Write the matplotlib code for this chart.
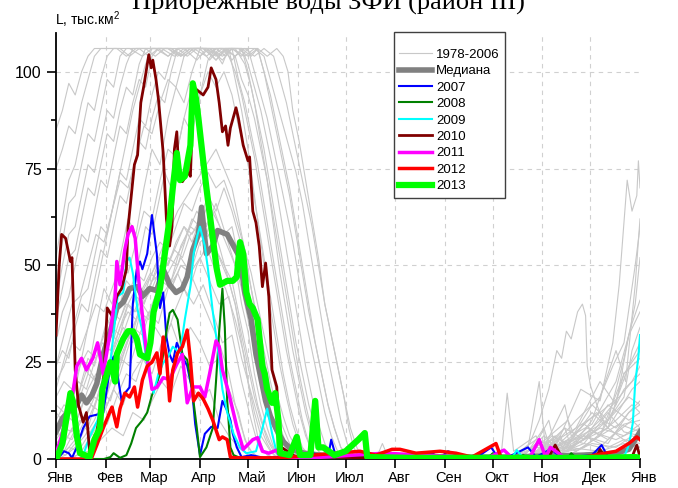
import matplotlib
matplotlib.use("Agg")
import matplotlib.pyplot as plt
import matplotlib.transforms as mtransforms

plt.rcParams['font.family'] = ['Liberation Sans', 'DejaVu Sans']
plt.rcParams['mathtext.fontset'] = 'custom'
plt.rcParams['mathtext.rm'] = 'Liberation Sans'
plt.rcParams['mathtext.it'] = 'Liberation Sans'

# ---------------- data ----------------
title = "Прибрежные воды ЗФИ (район III)"
ylabel = "L, тыс.км$^2$"
month_starts = [0, 31, 59, 90, 120, 151, 181, 212, 243, 273, 304, 334, 365]
month_labels = ["Янв", "Фев", "Мар", "Апр", "Май", "Июн", "Июл", "Авг", "Сен", "Окт", "Ноя", "Дек", "Янв"]
y_major = [0, 25, 50, 75, 100]
y_minor = [12.5, 37.5, 62.5, 87.5]

# background years 1978-2006 (day of year, value)
gray_1978 = [(0,0),(10,0.5),(20,2),(28,5),(35,8),(42,6),(48,12),(55,10),(60,15),(66,20),(72,17),(78,24),(84,20),(90,15),(96,18),(102,10),(108,6),(114,3),(120,1),(126,0),(300,0),(320,1),(340,2),(355,1),(365,0)]
gray_1979 = [(0,2),(6,1),(12,4),(18,8),(24,6),(30,12),(36,18),(42,14),(48,22),(54,26),(60,22),(66,30),(72,35),(78,28),(84,34),(90,30),(96,24),(102,26),(108,18),(114,12),(118,5),(122,2),(128,0),(290,0),(305,2),(320,1),(335,4),(350,3),(360,6),(365,5)]
gray_1980 = [(0,0),(8,3),(14,2),(20,6),(26,10),(32,9),(38,16),(44,22),(50,20),(56,28),(62,34),(68,30),(74,38),(80,44),(86,40),(92,45),(98,38),(104,30),(110,32),(116,20),(122,10),(126,4),(132,1),(138,0),(280,0),(300,3),(318,2),(330,5),(345,8),(358,4),(365,3)]
gray_1981 = [(0,4),(5,6),(10,5),(16,10),(22,14),(28,12),(34,20),(40,26),(46,24),(52,32),(58,38),(64,35),(70,44),(76,48),(82,42),(88,50),(94,55),(100,48),(106,44),(112,36),(118,26),(122,14),(126,6),(130,2),(136,0),(285,0),(295,2),(305,8),(310,1),(330,3),(350,10),(360,14),(365,12)]
gray_1982 = [(0,7),(6,5),(12,9),(18,16),(24,13),(30,22),(36,28),(42,34),(48,30),(54,40),(60,44),(66,50),(72,46),(78,55),(84,60),(90,58),(96,62),(102,55),(108,46),(112,40),(116,30),(120,20),(124,12),(128,6),(134,2),(140,0),(290,0),(300,2),(315,5),(325,2),(340,6),(355,18),(365,22)]
gray_1983 = [(0,1),(4,3),(10,8),(16,6),(22,12),(28,18),(34,15),(40,24),(46,32),(52,38),(58,36),(64,45),(70,52),(76,50),(82,58),(88,64),(94,60),(100,66),(106,58),(112,50),(116,40),(120,33),(124,22),(128,14),(132,8),(136,3),(140,1),(146,0),(300,0),(310,4),(320,2),(335,7),(350,5),(365,8)]
gray_1984 = [(0,10),(5,14),(10,12),(15,18),(20,24),(25,20),(30,30),(35,34),(40,32),(45,40),(50,44),(55,40),(60,46),(66,48),(72,44),(78,50),(84,48),(90,52),(96,46),(102,40),(108,42),(112,34),(116,26),(120,20),(124,14),(128,8),(132,4),(136,1),(142,0),(285,0),(295,3),(302,20),(306,2),(320,5),(340,3),(355,9),(365,10)]
gray_1985 = [(0,3),(6,2),(12,5),(18,10),(24,16),(30,14),(36,22),(42,27),(48,34),(54,40),(60,36),(66,42),(72,46),(78,52),(84,48),(90,56),(96,58),(102,52),(108,46),(112,40),(116,32),(120,24),(124,16),(128,10),(132,5),(136,2),(142,0),(295,0),(312,6),(318,2),(330,4),(345,12),(355,7),(365,6)]
gray_1986 = [(0,5),(5,8),(10,7),(15,12),(20,18),(25,22),(30,20),(35,28),(40,34),(45,38),(50,36),(55,42),(60,46),(65,50),(70,48),(75,52),(80,56),(85,62),(90,60),(95,66),(100,62),(105,58),(110,60),(114,52),(118,44),(122,36),(126,28),(130,20),(134,12),(138,6),(142,2),(148,0),(280,0),(290,2),(300,5),(312,3),(325,8),(340,12),(352,16),(360,20),(365,24)]
gray_1987 = [(0,12),(4,10),(9,15),(14,20),(19,18),(24,25),(29,30),(34,28),(39,35),(44,40),(49,38),(54,44),(59,48),(64,46),(69,50),(74,54),(79,52),(84,58),(89,60),(94,58),(99,64),(104,58),(108,54),(112,50),(116,44),(120,36),(124,28),(128,20),(132,14),(136,8),(140,4),(144,1),(150,0),(290,0),(300,4),(308,10),(312,3),(330,6),(345,4),(358,12),(365,15)]
gray_1988 = [(0,0),(5,2),(10,6),(15,10),(20,8),(25,15),(30,22),(35,27),(40,34),(45,40),(50,38),(55,44),(60,48),(65,52),(70,50),(75,55),(80,60),(85,56),(90,62),(95,68),(100,64),(105,70),(110,64),(114,58),(118,52),(122,44),(126,36),(130,28),(134,20),(138,13),(142,8),(146,4),(150,1),(156,0),(300,0),(315,2),(330,6),(345,3),(355,5),(365,4)]
gray_1989 = [(0,16),(5,20),(10,18),(15,24),(20,28),(25,26),(30,32),(35,38),(40,36),(45,42),(50,48),(55,46),(60,52),(65,56),(70,54),(75,60),(80,66),(85,64),(90,70),(95,74),(100,70),(105,72),(110,66),(114,60),(118,54),(122,48),(126,40),(130,32),(134,24),(138,17),(142,11),(146,6),(150,3),(156,1),(160,0),(285,0),(300,3),(320,10),(326,4),(340,8),(355,6),(365,9)]
gray_1990 = [(0,6),(4,9),(8,14),(12,12),(16,20),(20,26),(24,24),(28,30),(32,36),(36,34),(40,40),(44,46),(48,44),(52,52),(56,60),(60,58),(64,66),(68,74),(72,70),(76,80),(80,88),(85,84),(90,94),(95,100),(100,96),(105,100),(110,94),(114,86),(118,80),(122,72),(126,62),(130,52),(134,42),(138,32),(142,22),(146,14),(150,8),(154,3),(160,0),(290,0),(305,2),(318,8),(322,3),(340,10),(350,15),(358,24),(365,30)]
gray_1991 = [(0,20),(5,24),(10,30),(15,28),(20,34),(25,40),(30,38),(35,44),(40,50),(45,48),(50,56),(55,64),(60,62),(65,72),(70,80),(75,78),(80,88),(85,96),(90,94),(95,103),(100,106),(106,104),(110,106),(114,98),(118,92),(122,84),(126,76),(130,66),(134,56),(138,46),(142,36),(146,26),(150,18),(154,10),(158,4),(164,0),(295,0),(310,5),(315,1),(335,12),(345,8),(360,18),(365,20)]
gray_1992 = [(0,24),(4,28),(8,26),(12,34),(16,40),(20,38),(24,46),(28,54),(32,52),(36,60),(40,68),(44,66),(48,74),(52,82),(56,80),(60,88),(64,94),(68,92),(72,100),(76,106),(82,104),(88,106),(94,106),(100,103),(106,106),(112,104),(116,98),(120,94),(124,88),(128,80),(132,72),(136,62),(140,52),(144,42),(148,32),(152,22),(156,14),(160,7),(164,2),(170,0),(300,0),(320,4),(330,9),(340,6),(355,22),(365,28)]
gray_1993 = [(0,18),(4,24),(8,30),(12,36),(16,42),(20,44),(24,52),(28,60),(32,58),(36,66),(40,74),(44,72),(48,80),(52,88),(56,86),(60,94),(64,100),(68,98),(72,104),(76,106),(84,106),(90,104),(96,106),(104,106),(110,103),(116,106),(120,102),(124,96),(128,90),(132,82),(136,74),(140,64),(144,54),(148,44),(152,34),(156,24),(160,16),(164,9),(168,4),(174,0),(290,0),(305,3),(318,14),(322,6),(335,9),(350,20),(360,35),(365,41)]
gray_1994 = [(0,24),(5,32),(10,40),(15,42),(20,50),(25,58),(30,56),(35,64),(40,72),(45,70),(50,78),(55,86),(60,84),(65,92),(70,98),(75,96),(80,104),(86,106),(92,106),(98,104),(104,106),(110,106),(116,104),(120,106),(124,100),(128,94),(132,88),(136,80),(140,72),(144,64),(148,56),(152,46),(156,36),(160,28),(164,20),(168,12),(172,6),(176,2),(182,0),(300,0),(315,2),(330,5),(345,10),(358,16),(365,14)]
gray_1995 = [(0,30),(4,38),(8,42),(12,50),(16,58),(20,56),(24,64),(28,72),(32,70),(36,78),(40,86),(44,84),(48,92),(52,98),(56,96),(60,104),(64,106),(72,106),(78,104),(84,106),(92,106),(100,103),(106,106),(114,106),(120,104),(126,106),(130,100),(134,94),(138,86),(142,78),(146,70),(150,60),(154,50),(158,40),(162,30),(166,22),(170,14),(174,8),(178,3),(184,0),(290,0),(300,2),(310,6),(320,4),(335,14),(345,10),(355,26),(362,40),(365,52)]
gray_1996 = [(0,36),(4,44),(8,52),(12,54),(16,62),(20,70),(24,68),(28,76),(32,84),(36,82),(40,90),(44,96),(48,94),(52,102),(56,106),(64,106),(70,104),(76,106),(86,106),(94,104),(100,106),(110,106),(118,104),(124,106),(130,104),(134,98),(138,92),(142,86),(146,80),(150,74),(154,66),(158,56),(162,46),(166,36),(170,26),(174,18),(178,10),(182,4),(186,1),(190,0),(200,0),(204,4),(208,0),(295,0),(310,4),(325,8),(340,20),(350,14),(358,32),(365,38)]
gray_1997 = [(0,40),(4,50),(8,58),(12,60),(16,68),(20,76),(24,74),(28,82),(32,90),(36,88),(40,96),(44,102),(48,106),(56,106),(62,104),(68,106),(80,106),(88,103),(94,106),(104,106),(112,104),(118,106),(126,106),(132,104),(138,106),(142,104),(145,100),(148,90),(152,82),(156,72),(160,62),(164,52),(168,40),(172,32),(176,24),(180,16),(184,8),(188,3),(192,0),(300,0),(315,6),(320,2),(335,10),(350,28),(356,20),(362,45),(365,62)]
gray_1998 = [(0,45),(4,56),(8,66),(12,68),(16,76),(20,84),(24,82),(28,90),(32,98),(36,96),(40,104),(44,106),(52,106),(58,104),(64,106),(72,106),(80,104),(86,106),(96,106),(104,104),(110,106),(118,106),(124,104),(130,106),(136,104),(140,98),(144,92),(148,84),(152,76),(156,68),(160,60),(164,50),(168,40),(172,32),(176,24),(180,16),(183,8),(186,3),(190,0),(300,0),(310,3),(325,10),(340,16),(348,24),(355,30),(362,50),(365,60)]
gray_1999 = [(0,52),(4,62),(8,72),(12,76),(16,84),(20,92),(24,90),(28,98),(32,104),(36,106),(46,106),(54,104),(60,106),(70,106),(78,104),(84,106),(94,106),(102,104),(108,106),(116,106),(122,104),(126,106),(130,100),(134,92),(138,84),(142,76),(146,68),(150,58),(154,48),(158,38),(162,30),(166,22),(170,14),(174,8),(178,3),(184,0),(290,0),(305,6),(312,3),(328,18),(340,15),(348,30),(352,45),(357,72),(360,64),(363,68),(364,77),(365,70)]
gray_2000 = [(0,75),(4,80),(8,86),(12,84),(16,92),(20,98),(24,104),(28,106),(40,106),(46,104),(52,106),(62,106),(70,104),(76,106),(90,106),(96,103),(102,106),(112,106),(118,102),(122,96),(126,88),(130,80),(134,70),(138,60),(142,50),(146,40),(150,30),(154,22),(158,14),(162,8),(166,3),(172,0),(300,0),(320,5),(338,12),(345,8),(355,22),(365,26)]
gray_2001 = [(0,85),(4,90),(8,97),(12,94),(16,100),(20,104),(24,106),(38,106),(44,104),(50,106),(66,106),(74,104),(80,106),(94,106),(100,104),(106,106),(112,100),(116,94),(120,86),(124,78),(128,68),(132,58),(136,48),(140,38),(144,28),(148,20),(152,12),(156,6),(160,2),(166,0),(295,0),(305,3),(318,8),(330,5),(345,14),(358,10),(365,12)]
gray_2002 = [(0,2),(4,5),(8,10),(12,18),(16,26),(20,34),(24,42),(28,50),(32,58),(36,66),(40,74),(44,82),(48,90),(52,96),(56,102),(60,106),(70,106),(76,104),(82,106),(96,106),(104,103),(110,106),(116,106),(120,100),(124,92),(128,82),(132,72),(136,60),(140,48),(144,38),(148,28),(152,20),(156,12),(160,6),(164,2),(170,0),(285,0),(296,4),(302,10),(308,18),(313,28),(316,26),(319,33),(322,31),(326,38),(329,40),(331,37),(332,24),(334,19),(338,14),(342,10),(350,8),(358,12),(365,14)]
gray_2003 = [(0,14),(5,12),(10,18),(15,26),(20,22),(25,34),(30,44),(35,40),(40,52),(45,62),(50,58),(55,70),(60,80),(65,76),(70,88),(75,96),(80,92),(85,100),(90,106),(98,106),(104,102),(108,106),(112,98),(116,90),(120,80),(124,68),(128,56),(132,44),(136,34),(140,24),(144,16),(148,9),(152,4),(158,0),(278,0),(282,17),(286,2),(300,6),(304,2),(318,3),(332,8),(345,5),(360,10),(365,8)]
gray_2004 = [(0,8),(5,12),(10,10),(15,16),(20,22),(25,20),(30,26),(35,32),(40,30),(45,36),(50,42),(55,40),(60,46),(65,52),(70,50),(75,56),(80,60),(85,58),(90,62),(95,58),(100,54),(105,50),(110,46),(114,38),(118,30),(122,22),(126,14),(130,8),(134,4),(140,0),(300,0),(312,4),(325,2),(340,6),(352,9),(365,7)]
gray_2005 = [(0,0),(6,1),(12,3),(18,6),(24,10),(30,16),(36,22),(42,28),(48,34),(54,32),(60,40),(66,46),(72,44),(78,50),(84,48),(90,42),(96,36),(102,30),(108,22),(112,14),(116,8),(120,3),(126,0),(290,0),(300,1),(320,3),(340,2),(355,4),(365,3)]
gray_2006 = [(0,0),(10,0),(16,2),(22,6),(28,10),(34,16),(40,22),(46,30),(52,38),(58,46),(64,52),(70,58),(76,64),(82,68),(88,72),(94,76),(100,80),(106,74),(110,70),(114,62),(118,54),(122,44),(126,34),(130,26),(134,18),(138,11),(142,6),(146,2),(150,1),(156,0),(295,0),(310,3),(328,6),(345,10),(355,16),(360,28),(365,34)]

gray_years = [gray_1978, gray_1979, gray_1980, gray_1981, gray_1982, gray_1983, gray_1984,
              gray_1985, gray_1986, gray_1987, gray_1988, gray_1989, gray_1990, gray_1991,
              gray_1992, gray_1993, gray_1994, gray_1995, gray_1996, gray_1997, gray_1998,
              gray_1999, gray_2000, gray_2001, gray_2002, gray_2003, gray_2004, gray_2005,
              gray_2006]

median_days = [0,4,8.5,13,16,19,22.5,25.5,29.5,34,38,42,46,51,54,58.5,63,67,71,75,79,82,85.5,89,91,94,98,101,107,111,115,118,122,125,128,131,134,138,142,147,155,165,180,200,240,280,300,330,350,358,362,365]
median_vals = [7,10.5,12.5,14,16.5,14.5,16.5,19.5,27,33,39,40.5,44,44.5,42,44,43.5,49,45,43,44,47,54,58,65,53,55,59,58,55,52,43,36,27,21,15,11,7.5,4.5,2.5,1.5,1,0.7,0.5,0.5,0.5,0.7,1,1.5,2.5,5,7]

days_2007 = [0,3,5,8,10,13,17,21,26,29.5,34,36,38,41,43,46,48,50.5,52.5,54,57,60,63,65,67,69,71,73,75.5,79,82,85,87,90,93,97,101,104,107,109,110.5,113,116,122,130,140,150,155,160,170,172,175,185,195,200,205,210,215,230,235,240,245,255,265,272,276,285,295,300,309,315,320,335,341,345,355,365]
vals_2007 = [0.5,1,2,1.5,0.3,3,8,11,11.5,12,24,26.5,23,15,17,18.5,40,49,51,49,53,63,53,39,43,31.5,27,25,30,26.5,24,18,9,1,6.5,8.3,8,15,12.5,10,6.5,3,0.5,1,0.3,0.5,0.8,0.3,1.5,0.5,5,0.5,1,0.3,1.5,0.5,1.5,0.5,1,1.5,0.3,2,0.5,1,3,0.5,1,3,0.5,2.5,0.8,0.5,1,3.6,0.5,0.8,0.5]

days_2008 = [0,30,34,36,40,44,47,50,54,57,60,63,65,67,69,71,73,76,79,82,85,88,90,94,98,100,102,104,105.5,107,109,111,115,130,160,200,250,270,273,276,290,292,295,320,322,325,365]
vals_2008 = [0,0,0.5,1.5,0.3,1,4,8,10,12,16.5,19.5,22,27,33,37.7,38.5,36,27,25.6,18,8,0.5,3,8,20,33,44,34,15,3,1,0.3,0.3,0.5,0.5,0.3,0.3,1.5,0.3,0.3,1,0.3,0.3,1.5,0.3,0.3]

days_2009 = [0,15,17,21,26,29.5,34,37,38.5,42,44,46,48,51,54,57,61,64,67,70,73,77.5,80.5,84,86,88.5,90,93,95,98,101,104,107,111,115,119,125,129,132,135,138,142,160,200,250,285,288,292,330,355,357.5,359,360.5,362,364,365]
vals_2009 = [0,0,1,5.7,10,18.5,25,36,42,43,51,52,48,38.5,33,24,17,22,24.8,26.4,29,27.4,36,44.5,53,58,60,55,49,38,29,18,12,6.5,3,1.5,2,8,13,6.7,1.5,0.3,0.3,0.3,0.3,0.3,2.3,0.3,0.3,0.5,3,5.7,9.3,19.6,26.4,32]

days_2010 = [0,2,3.5,6,9,10,12,14,17,19,21,24,27.5,30,32,35,38,41,44,45,49,51,53,55,58,59.5,60.5,62.5,64,67,69,71,72.5,74,75.5,77,79,82.5,84,86,89,92,95,97,100,102,104,106,107.5,109,112.5,114,117,120,121,122,123,125,127,129,131,133,135,138,139,141,150,200,250,280,300,308,312,316,330,338,340,343,355,360,363,365]
vals_2010 = [32,50,58,57,51,52,23,14,9.5,12,2,3,12,22,39,37,42,44,49,59.6,76,78.5,92,96.6,104.4,101,103,98,93,79,62,55,60,80,84.5,72,71.6,74,73,96,95,94,96,101,98,92,84.5,86,81,85.5,90.7,88,81,77,78,71,64,61,55,44.5,50.6,42,23,18.6,10,3,0.5,0.3,0.3,0.3,0.5,0.5,3.6,0.5,0.5,0.5,2.5,0.5,0.5,0.5,3.6,0.5]

days_2011 = [0.5,3.5,7,10.5,13,16,19,23,26,29.5,34,37,38,40,43,45,47.5,49.5,51.5,54,57,60,63,67,71,75.5,79,82,85.5,90,93,96,100,102,104,108,113,117,123,126,129,133,138,140,160,205,230,270,280,285,296,302,306,309,318,365]
vals_2011 = [2,6,12,17,24,26,23,26,30,22,33,42,51,45,54,58,60,57,47,37,26,18,18.5,21,20.5,24.5,27,14.5,18.6,18.6,16,22,30.5,29,23,17,8.3,2.5,5,5.5,2,1.5,2.3,0.5,0.3,1.5,1,0.3,2.3,0.3,0.3,5,0.5,3,0.3,0.3]

days_2012 = [0,22,25.5,29.5,34,35,38,40,43,46,49,51,54,57,60,63,65,67,69,71,73,76,79,82,84,86,89,92,95,98,102,104,107,109,112,140,175,190,200,210,215,225,240,250,260,275,278,300,330,350,358,363,365]
vals_2012 = [0,0,3.6,8,12.5,13.4,8.3,13,17,16,18.6,13.4,20.4,24,25,27.4,22,31.5,26.4,15,23,27.4,29,33.3,25.6,15,17,15.5,13,10,5,5.7,5,0.5,0.3,0.3,1.5,2,1,2.5,2.5,1.5,2,1.5,0.5,4,0.5,0.5,0.5,2,4,5.7,5]

days_2013 = [0.5,4,9,10.5,13,15,21,24,27.5,29,34,37,38,42,45,48,50.5,52.5,57,59,61,65,68,71,73,75.5,77.5,80.5,84,85.5,87.5,89,92,94,98,100.5,102.5,107,110.5,113,115,117,119,121,123,126,129,130.5,132,135,137,139,140,146,150.5,152.5,159,162,164,167,174,181,189,193,194.5,220,260,300,340,362,365]
vals_2013 = [0.3,4,17,15,6,1.5,0.5,5,8,18,25,20,27,31,33,33,31,27,26,30,38,44,53,62,70,79,72,73,81,97,93,88,77,70,57,49,45,46,46,47,56,53,43,40,39,36,24,22,18,14.5,17,10,1.5,1,5.7,1,1,15,3,3,1,2,5,6.7,0.5,0.3,0.3,0.3,0.3,0.5,0.3]

year_series = [
    ("2007", days_2007, vals_2007, "#0000ff", 1.5),
    ("2008", days_2008, vals_2008, "#008000", 1.5),
    ("2009", days_2009, vals_2009, "#00ffff", 1.5),
    ("2010", days_2010, vals_2010, "#800000", 2.0),
    ("2011", days_2011, vals_2011, "#ff00ff", 2.5),
    ("2012", days_2012, vals_2012, "#ff0000", 2.5),
    ("2013", days_2013, vals_2013, "#00ff00", 4.5),
]

# ---------------- figure ----------------
fig = plt.figure(figsize=(6.78, 4.88), dpi=100)
ax = fig.add_axes([56/678, 29/488, 584/678, 426/488])

for m in month_starts[1:-1]:
    ax.axvline(m, color="#d0d0d0", lw=0.8, ls=(0, (4, 4)), zorder=0)
for yv in y_major[1:]:
    ax.axhline(yv, color="#d0d0d0", lw=0.8, ls=(0, (4, 4)), zorder=0)

handles = []
for i, g in enumerate(gray_years):
    xs = [p[0] for p in g]
    ys = [p[1] for p in g]
    ln, = ax.plot(xs, ys, color="#c8c8c8", lw=0.8, zorder=1)
    if i == 0:
        ln.set_label("1978-2006")
        handles.append(ln)

ln, = ax.plot(median_days, median_vals, color="#808080", lw=4, zorder=2, label="Медиана")
handles.append(ln)

for k, (lab, d, v, c, w) in enumerate(year_series):
    ln, = ax.plot(d, v, color=c, lw=w, zorder=3 + k, label=lab)
    handles.append(ln)

ax.set_xlim(0, 365)
ax.set_ylim(0, 110)
ax.set_xticks(month_starts)
ax.set_xticklabels(month_labels)
ax.set_yticks(y_major)
ax.set_yticks(y_minor, minor=True)
ax.tick_params(axis="x", length=6.5, width=1.2, labelsize=10.5, pad=2, direction="out")
ax.tick_params(axis="y", which="major", length=6.5, width=1.2, labelsize=11.5, pad=4, direction="out")
ax.tick_params(axis="y", which="minor", length=3.6, width=1.2, direction="out")
for s in ["top", "right"]:
    ax.spines[s].set_visible(False)
for s in ["left", "bottom"]:
    ax.spines[s].set_linewidth(1.3)

offset = mtransforms.ScaledTranslation(4/100, 0, fig.dpi_scale_trans)
for lab in ax.get_xticklabels():
    lab.set_transform(lab.get_transform() + offset)

leg = ax.legend(handles=handles, loc="upper left", bbox_to_anchor=((394-56)/584, (459-32)/426),
                fontsize=9.5, handlelength=2.5, handletextpad=0.3, labelspacing=0.32,
                borderpad=0.4, frameon=True, fancybox=False, framealpha=1,
                title=" ", title_fontsize=5, borderaxespad=0)
leg.get_frame().set_edgecolor("#404040")
leg.get_frame().set_linewidth(1.0)
leg.set_zorder(20)

fig.text(328/678, 1 - 9/488, title, ha="center", va="baseline", fontsize=19,
         family="Liberation Serif")
fig.text(55/678, 1 - 25/488, ylabel, ha="left", va="baseline", fontsize=10)

fig.savefig("out.png", dpi=100)
